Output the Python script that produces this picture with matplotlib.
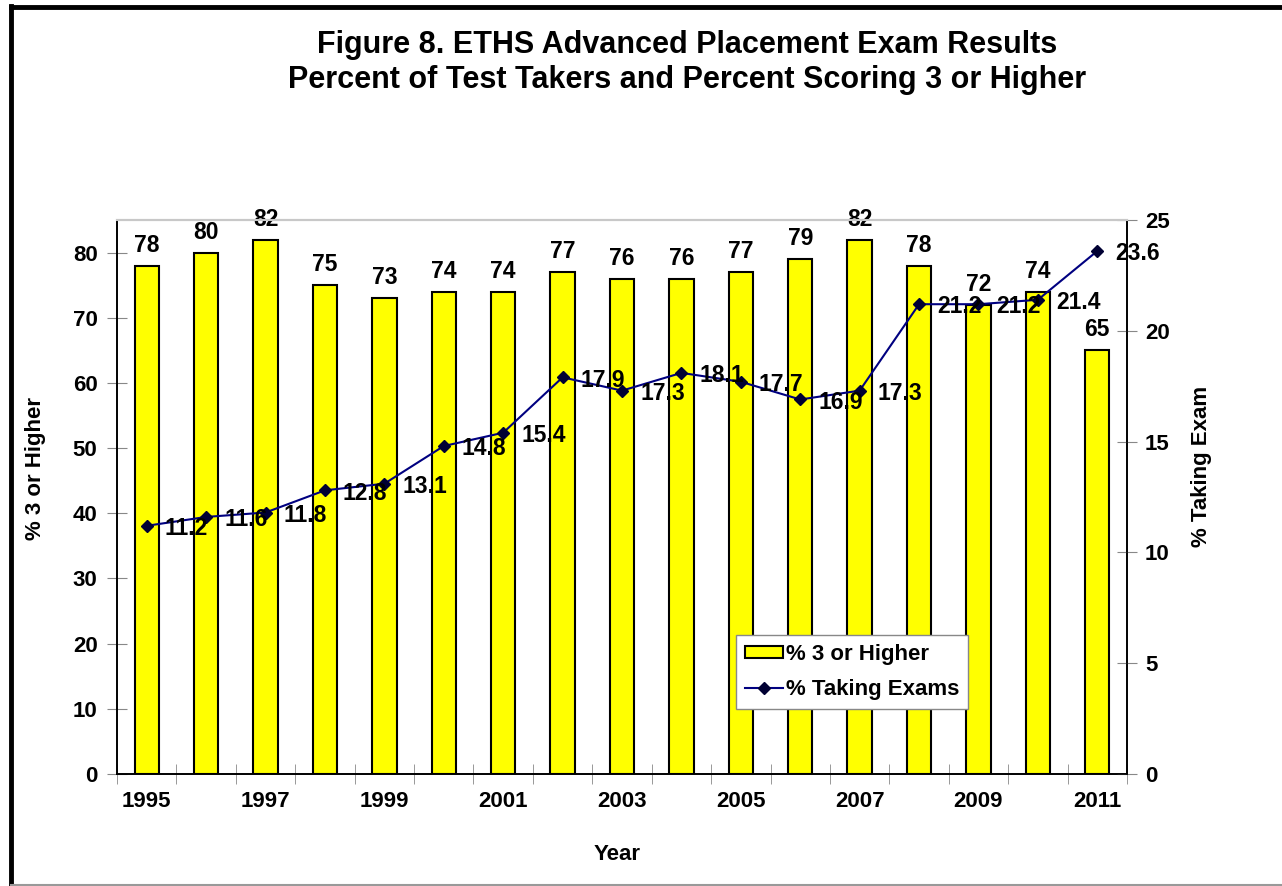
import numpy as np
import matplotlib
matplotlib.use("Agg")
import matplotlib.pyplot as plt
from matplotlib.lines import Line2D
from matplotlib.patches import Patch

plt.rcParams['font.family'] = ['Liberation Sans', 'DejaVu Sans']
plt.rcParams['font.weight'] = 'bold'

# data
years = list(range(1995, 2012))
pct_3_or_higher = [78, 80, 82, 75, 73, 74, 74, 77, 76, 76, 77, 79, 82, 78, 72, 74, 65]
pct_taking = [11.2, 11.6, 11.8, 12.8, 13.1, 14.8, 15.4, 17.9, 17.3, 18.1,
              17.7, 16.9, 17.3, 21.2, 21.2, 21.4, 23.6]
year_labels = [str(y) if (y - 1995) % 2 == 0 else '' for y in years]

W, H = 1282, 886
fig = plt.figure(figsize=(W / 100, H / 100), dpi=100)
ax = fig.add_axes([117 / W, 1 - 774 / H, (1127 - 117) / W, (774 - 220) / H])
ax2 = ax.twinx()

x = np.arange(len(years))

# bars
ax.bar(x, pct_3_or_higher, width=0.41, color='#FFFF00', edgecolor='black', linewidth=1.5, zorder=2)
for xi, v in zip(x, pct_3_or_higher):
    ax.annotate(str(v), (xi, v), xytext=(0, 10), textcoords='offset points',
                ha='center', va='baseline', fontsize=16.5, fontweight='bold')

ax.set_xlim(-0.5, len(years) - 0.5)
ax.set_ylim(0, 85)
ax.set_yticks(range(0, 90, 10))
ax.set_xticks(x)
ax.set_xticklabels(year_labels)
ax.set_xticks(np.arange(-0.5, len(years), 1), minor=True)
ax.tick_params(axis='x', which='major', length=0, pad=12, labelsize=16)
ax.tick_params(axis='x', which='minor', length=14, direction='inout', color='#888888')
ax.tick_params(axis='y', length=14, direction='inout', color='#888888', labelsize=16, pad=7)

# line
ax2.plot(x, pct_taking, color='#000080', linewidth=1.5, marker='D', markersize=6,
         markerfacecolor='#000033', markeredgecolor='#000033', zorder=3)
for xi, v in zip(x, pct_taking):
    ax2.annotate(f'{v:.1f}', (xi, v), xytext=(13, -2), textcoords='offset points',
                 ha='left', va='center', fontsize=16.5, fontweight='bold')
ax2.set_ylim(0, 25)
ax2.set_yticks(range(0, 30, 5))
ax2.tick_params(axis='y', length=14, direction='inout', color='#888888', labelsize=16, pad=6)

for a in (ax, ax2):
    a.spines['top'].set_color('#c8c8c8')
    a.spines['top'].set_linewidth(1.5)
    for s in ('left', 'right', 'bottom'):
        a.spines[s].set_color('black')
        a.spines[s].set_linewidth(1.2)

# axis titles
fig.text(35 / W, 1 - 468 / H, '% 3 or Higher', rotation=90, ha='center', va='center',
         fontsize=16, fontweight='bold')
fig.text(1201 / W, 1 - 466 / H, '% Taking Exam', rotation=90, ha='center', va='center',
         fontsize=16, fontweight='bold')
fig.text(617 / W, 1 - 855 / H, 'Year', ha='center', va='center', fontsize=16, fontweight='bold')

# title
fig.text(687 / W, 1 - 45 / H, 'Figure 8. ETHS Advanced Placement Exam Results',
         ha='center', va='center', fontsize=22, fontweight='bold')
fig.text(687 / W, 1 - 80 / H, 'Percent of Test Takers and Percent Scoring 3 or Higher',
         ha='center', va='center', fontsize=22, fontweight='bold')

# legend
handles = [Patch(facecolor='#FFFF00', edgecolor='black', linewidth=1.5),
           Line2D([], [], color='#000080', linewidth=1.5, marker='D', markersize=6,
                  markerfacecolor='#000033', markeredgecolor='#000033')]
leg = ax2.legend(handles, ['% 3 or Higher', '% Taking Exams'], loc='upper left',
                 bbox_to_anchor=(0.613, 0.251), borderaxespad=0, fancybox=False,
                 edgecolor='#888888', framealpha=1, fontsize=16, handlelength=1.7,
                 handleheight=0.5, handletextpad=0.15, borderpad=0.4, labelspacing=0.65)
leg.get_frame().set_linewidth(1.0)
for t in leg.get_texts():
    t.set_fontweight('bold')

# outer frame
fig.add_artist(Line2D([11 / W, 11 / W], [0, 1 - 6 / H], color='black', linewidth=3.5))
fig.add_artist(Line2D([11 / W, 1], [1 - 6.5 / H, 1 - 6.5 / H], color='black', linewidth=3.5))
fig.add_artist(Line2D([11 / W, 1], [1 - 885 / H, 1 - 885 / H], color='#999999', linewidth=1.5))

fig.savefig('out.png', dpi=100)
